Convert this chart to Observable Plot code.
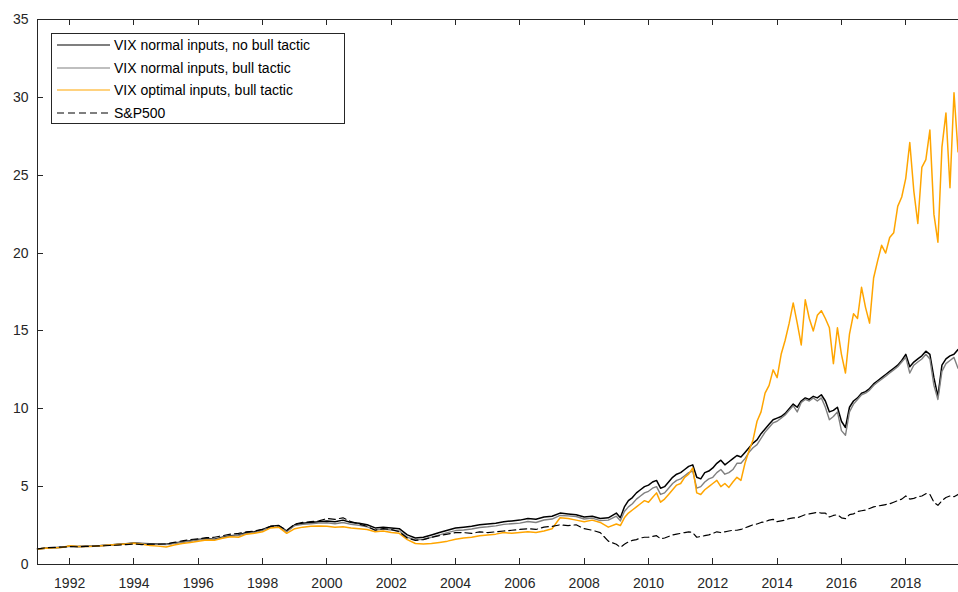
<!DOCTYPE html>
<html>
<head>
<meta charset="utf-8">
<script src="https://cdn.jsdelivr.net/npm/d3@7"></script>
<script src="https://cdn.jsdelivr.net/npm/@observablehq/plot@0.6"></script>
<style>
  body { margin: 0; background: #fff; }
  #wrap { position: relative; width: 958px; height: 592px; font-family: "Liberation Sans", Arial, sans-serif; }
  .legend { position: absolute; left: 51px; top: 33px; width: 292px; height: 89px; border: 1px solid #262626; background: #fff; font-size: 14px; color: #000; }
  .legend .row { display: flex; align-items: center; height: 22.6px; white-space: nowrap; }
  .legend svg { margin-left: 5px; margin-right: 4px; display: block; }
</style>
</head>
<body>
<div id="wrap"></div>
<script>
// Sampling dates (decimal years): quarterly to 2008, then every 1.5 months
const years = [
  1991, 1991.25, 1991.5, 1991.75, 1992, 1992.25, 1992.5, 1992.75,
  1993, 1993.25, 1993.5, 1993.75, 1994, 1994.25, 1994.5, 1994.75,
  1995, 1995.25, 1995.5, 1995.75, 1996, 1996.25, 1996.5, 1996.75,
  1997, 1997.25, 1997.5, 1997.75, 1998, 1998.25, 1998.5, 1998.75,
  1999, 1999.25, 1999.5, 1999.75, 2000, 2000.25, 2000.5, 2000.75,
  2001, 2001.25, 2001.5, 2001.75, 2002, 2002.25, 2002.5, 2002.75,
  2003, 2003.25, 2003.5, 2003.75, 2004, 2004.25, 2004.5, 2004.75,
  2005, 2005.25, 2005.5, 2005.75, 2006, 2006.25, 2006.5, 2006.75,
  2007, 2007.25, 2007.5, 2007.75, 2008, 2008.25, 2008.5, 2008.75,
  2009, 2009.125, 2009.25, 2009.375, 2009.5, 2009.625, 2009.75, 2009.875,
  2010, 2010.125, 2010.25, 2010.375, 2010.5, 2010.625, 2010.75, 2010.875,
  2011, 2011.125, 2011.25, 2011.375, 2011.5, 2011.625, 2011.75, 2011.875,
  2012, 2012.125, 2012.25, 2012.375, 2012.5, 2012.625, 2012.75, 2012.875,
  2013, 2013.125, 2013.25, 2013.375, 2013.5, 2013.625, 2013.75, 2013.875,
  2014, 2014.125, 2014.25, 2014.375, 2014.5, 2014.625, 2014.75, 2014.875,
  2015, 2015.125, 2015.25, 2015.375, 2015.5, 2015.625, 2015.75, 2015.875,
  2016, 2016.125, 2016.25, 2016.375, 2016.5, 2016.625, 2016.75, 2016.875,
  2017, 2017.125, 2017.25, 2017.375, 2017.5, 2017.625, 2017.75, 2017.875,
  2018, 2018.125, 2018.25, 2018.375, 2018.5, 2018.625, 2018.75, 2018.875,
  2019, 2019.125, 2019.25, 2019.375, 2019.5, 2019.625
];

// VIX normal inputs, no bull tactic
const vixNoBull = [
  1.00, 1.05, 1.08, 1.10, 1.18, 1.15, 1.17, 1.18,
  1.22, 1.25, 1.30, 1.33, 1.38, 1.35, 1.33, 1.32,
  1.30, 1.38, 1.45, 1.52, 1.60, 1.65, 1.62, 1.75,
  1.85, 1.90, 2.05, 2.10, 2.25, 2.45, 2.50, 2.15,
  2.55, 2.65, 2.70, 2.75, 2.80, 2.75, 2.85, 2.70,
  2.65, 2.55, 2.35, 2.40, 2.35, 2.30, 1.90, 1.70,
  1.75, 1.90, 2.05, 2.20, 2.35, 2.40, 2.45, 2.55,
  2.60, 2.65, 2.75, 2.80, 2.85, 2.95, 2.90, 3.05,
  3.10, 3.30, 3.25, 3.20, 3.05, 3.10, 2.95, 3.00,
  3.30, 3.00, 3.70, 4.10, 4.30, 4.60, 4.80, 5.00,
  5.10, 5.30, 5.40, 4.90, 5.00, 5.30, 5.60, 5.80,
  5.90, 6.10, 6.30, 6.40, 5.60, 5.50, 5.90, 6.00,
  6.20, 6.50, 6.70, 6.40, 6.60, 6.80, 7.00, 6.90,
  7.20, 7.50, 7.80, 8.00, 8.40, 8.70, 9.00, 9.30,
  9.40, 9.50, 9.70, 10.00, 10.30, 10.10, 10.50, 10.70,
  10.60, 10.80, 10.70, 10.90, 10.50, 9.80, 9.90, 10.10,
  9.20, 8.80, 10.10, 10.50, 10.70, 11.00, 11.10, 11.30,
  11.60, 11.80, 12.00, 12.20, 12.40, 12.60, 12.80, 13.10,
  13.50, 12.70, 13.00, 13.20, 13.40, 13.70, 13.50, 12.00,
  10.80, 12.80, 13.20, 13.40, 13.50, 13.80
];

// VIX normal inputs, bull tactic
const vixBull = [
  1.00, 1.05, 1.08, 1.10, 1.17, 1.14, 1.16, 1.17,
  1.21, 1.24, 1.29, 1.32, 1.37, 1.34, 1.31, 1.30,
  1.28, 1.36, 1.43, 1.50, 1.58, 1.63, 1.60, 1.72,
  1.82, 1.86, 2.00, 2.05, 2.20, 2.40, 2.45, 2.10,
  2.50, 2.58, 2.62, 2.66, 2.68, 2.62, 2.70, 2.58,
  2.52, 2.42, 2.22, 2.28, 2.22, 2.15, 1.75, 1.58,
  1.62, 1.75, 1.90, 2.05, 2.18, 2.22, 2.28, 2.38,
  2.42, 2.48, 2.58, 2.62, 2.66, 2.76, 2.70, 2.86,
  2.92, 3.15, 3.12, 3.08, 2.92, 2.98, 2.82, 2.85,
  3.10, 2.80, 3.40, 3.70, 3.90, 4.20, 4.40, 4.60,
  4.70, 4.90, 5.00, 4.50, 4.60, 4.90, 5.20, 5.40,
  5.50, 5.70, 5.90, 6.00, 4.90, 5.00, 5.30, 5.50,
  5.60, 5.90, 6.10, 5.80, 5.90, 6.10, 6.50, 6.50,
  6.80, 7.20, 7.50, 7.70, 8.10, 8.50, 8.80, 9.10,
  9.20, 9.40, 9.60, 9.90, 10.20, 9.80, 10.40, 10.60,
  10.50, 10.70, 10.50, 10.70, 10.10, 9.30, 9.50, 9.80,
  8.60, 8.30, 9.80, 10.30, 10.60, 10.90, 11.00, 11.20,
  11.50, 11.70, 11.90, 12.10, 12.30, 12.50, 12.70, 13.00,
  13.30, 12.30, 12.80, 13.00, 13.20, 13.50, 13.20, 11.50,
  10.60, 12.40, 12.90, 13.10, 13.30, 12.60
];

// VIX optimal inputs, bull tactic
const vixOptimal = [
  1.00, 1.04, 1.07, 1.09, 1.20, 1.15, 1.16, 1.17,
  1.21, 1.25, 1.29, 1.32, 1.36, 1.30, 1.22, 1.18,
  1.12, 1.25, 1.35, 1.42, 1.50, 1.58, 1.55, 1.68,
  1.78, 1.75, 1.95, 2.00, 2.10, 2.35, 2.40, 2.00,
  2.30, 2.40, 2.45, 2.48, 2.45, 2.40, 2.42, 2.35,
  2.30, 2.25, 2.10, 2.15, 2.05, 2.00, 1.60, 1.35,
  1.32, 1.35, 1.42, 1.50, 1.62, 1.70, 1.75, 1.85,
  1.90, 1.95, 2.05, 2.00, 2.05, 2.10, 2.05, 2.15,
  2.30, 3.00, 2.95, 2.85, 2.75, 2.85, 2.70, 2.40,
  2.60, 2.50, 3.00, 3.30, 3.50, 3.70, 3.90, 4.10,
  4.00, 4.30, 4.60, 4.00, 4.20, 4.50, 4.80, 5.10,
  5.20, 5.60, 5.80, 6.20, 4.60, 4.50, 4.80, 5.00,
  5.20, 5.40, 5.00, 5.20, 4.95, 5.30, 5.60, 5.40,
  6.50, 7.30, 8.00, 9.20, 9.80, 11.00, 11.50, 12.50,
  12.00, 13.50, 14.40, 15.50, 16.80, 15.50, 14.10, 17.00,
  15.80, 15.00, 16.00, 16.30, 15.80, 15.20, 12.90, 15.20,
  13.50, 12.30, 14.80, 16.10, 15.80, 17.80, 16.50, 15.50,
  18.40, 19.50, 20.50, 20.00, 21.00, 21.30, 23.00, 23.60,
  24.80, 27.10, 24.00, 21.90, 25.50, 26.00, 27.90, 22.50,
  20.70, 26.80, 29.00, 24.20, 30.30, 26.50
];

// S&P500
const sp500 = [
  1.00, 1.07, 1.10, 1.12, 1.15, 1.14, 1.16, 1.18,
  1.20, 1.22, 1.25, 1.28, 1.32, 1.28, 1.30, 1.30,
  1.32, 1.42, 1.52, 1.60, 1.65, 1.72, 1.75, 1.85,
  1.95, 2.00, 2.10, 2.15, 2.25, 2.45, 2.50, 2.20,
  2.60, 2.70, 2.75, 2.80, 2.95, 2.90, 3.00, 2.75,
  2.60, 2.45, 2.20, 2.30, 2.25, 2.10, 1.70, 1.55,
  1.60, 1.75, 1.85, 1.95, 2.05, 2.05, 2.00, 2.10,
  2.05, 2.10, 2.15, 2.20, 2.25, 2.30, 2.25, 2.40,
  2.45, 2.55, 2.50, 2.55, 2.30, 2.20, 2.05, 1.50,
  1.30, 1.10, 1.30, 1.45, 1.55, 1.60, 1.70, 1.75,
  1.75, 1.80, 1.85, 1.65, 1.70, 1.80, 1.90, 1.95,
  2.00, 2.05, 2.10, 2.05, 1.75, 1.80, 1.85, 1.90,
  2.00, 2.10, 2.05, 2.10, 2.15, 2.20, 2.20, 2.25,
  2.35, 2.45, 2.55, 2.60, 2.70, 2.75, 2.85, 2.90,
  2.75, 2.80, 2.85, 2.95, 3.00, 3.00, 3.10, 3.20,
  3.25, 3.30, 3.35, 3.30, 3.30, 3.05, 3.15, 3.20,
  3.00, 2.95, 3.20, 3.25, 3.40, 3.45, 3.50, 3.60,
  3.70, 3.75, 3.80, 3.85, 3.90, 4.00, 4.10, 4.20,
  4.40, 4.20, 4.25, 4.35, 4.40, 4.55, 4.50, 4.00,
  3.80, 4.10, 4.30, 4.40, 4.35, 4.50
];

const xTicks = [1992, 1994, 1996, 1998, 2000, 2002, 2004, 2006, 2008, 2010, 2012, 2014, 2016, 2018];
const yTicks = [0, 5, 10, 15, 20, 25, 30, 35];

const seriesNames = [
  "VIX normal inputs, no bull tactic",
  "VIX normal inputs, bull tactic",
  "VIX optimal inputs, bull tactic",
  "S&P500"
];
const seriesColors = ["#000000", "#808080", "#ffa500", "#000000"];
const seriesDash = [null, null, null, "7,4"];

const rows = (vals) => years.map((x, i) => ({x, y: vals[i]}));
const axisColor = "#262626";
const xStart = 1991, xEnd = 2019.64, yMin = 0, yMax = 35;
const tickLen = 6;

const chart = Plot.plot({
  width: 958,
  height: 592,
  marginLeft: 37,
  marginRight: 0,
  marginTop: 19,
  marginBottom: 28,
  style: {fontFamily: '"Liberation Sans", Arial, sans-serif', fontSize: "14px", color: axisColor, background: "#fff"},
  x: {domain: [xStart, xEnd]},
  y: {domain: [yMin, yMax]},
  marks: [
    Plot.line(rows(vixNoBull), {x: "x", y: "y", stroke: seriesColors[0], strokeWidth: 1.5}),
    Plot.line(rows(vixBull), {x: "x", y: "y", stroke: seriesColors[1], strokeWidth: 1.4}),
    Plot.line(rows(vixOptimal), {x: "x", y: "y", stroke: seriesColors[2], strokeWidth: 1.5}),
    Plot.line(rows(sp500), {x: "x", y: "y", stroke: seriesColors[3], strokeWidth: 1.2, strokeDasharray: seriesDash[3]}),
    // box outline (left, bottom, top)
    Plot.ruleY([yMin], {stroke: axisColor}),
    Plot.ruleY([yMax], {stroke: axisColor}),
    Plot.ruleX([xStart], {stroke: axisColor}),
    Plot.axisX(xTicks, {anchor: "bottom", tickSize: 0, tickPadding: 14, label: null, tickFormat: (d) => String(d)}),
    Plot.axisY(yTicks, {anchor: "left", tickSize: 0, tickPadding: 9, label: null, tickFormat: (d) => String(d)})
  ]
});

const wrap = document.getElementById("wrap");
wrap.appendChild(chart);

// Inward-pointing ticks on the bottom, top and left edges, placed with the plot's own scales
const sx = chart.scale("x"), sy = chart.scale("y");
const svg = d3.select(chart.tagName.toLowerCase() === "svg" ? chart : chart.querySelector("svg"));
const tickLayer = svg.append("g")
  .attr("stroke", axisColor)
  .attr("stroke-width", 1)
  .attr("shape-rendering", "crispEdges");
const yBottom = sy.apply(yMin), yTop = sy.apply(yMax), xLeft = sx.apply(xStart);
for (const t of xTicks) {
  const px = Math.round(sx.apply(t)) + 0.5;
  tickLayer.append("line").attr("x1", px).attr("x2", px).attr("y1", yBottom).attr("y2", yBottom - tickLen);
  tickLayer.append("line").attr("x1", px).attr("x2", px).attr("y1", yTop).attr("y2", yTop + tickLen);
}
for (const t of yTicks) {
  const py = Math.round(sy.apply(t)) + 0.5;
  tickLayer.append("line").attr("x1", xLeft).attr("x2", xLeft + tickLen).attr("y1", py).attr("y2", py);
}

// Legend box in the upper-left corner of the axes
const legend = document.createElement("div");
legend.className = "legend";
seriesNames.forEach((name, i) => {
  const row = document.createElement("div");
  row.className = "row";
  const sw = d3.create("svg").attr("width", 53).attr("height", 4);
  sw.append("line")
    .attr("x1", 0).attr("x2", 53).attr("y1", 2).attr("y2", 2)
    .attr("stroke", seriesColors[i])
    .attr("stroke-width", 1.2)
    .attr("stroke-dasharray", seriesDash[i]);
  row.appendChild(sw.node());
  const label = document.createElement("span");
  label.textContent = name;
  row.appendChild(label);
  legend.appendChild(row);
});
wrap.appendChild(legend);
</script>
</body>
</html>
